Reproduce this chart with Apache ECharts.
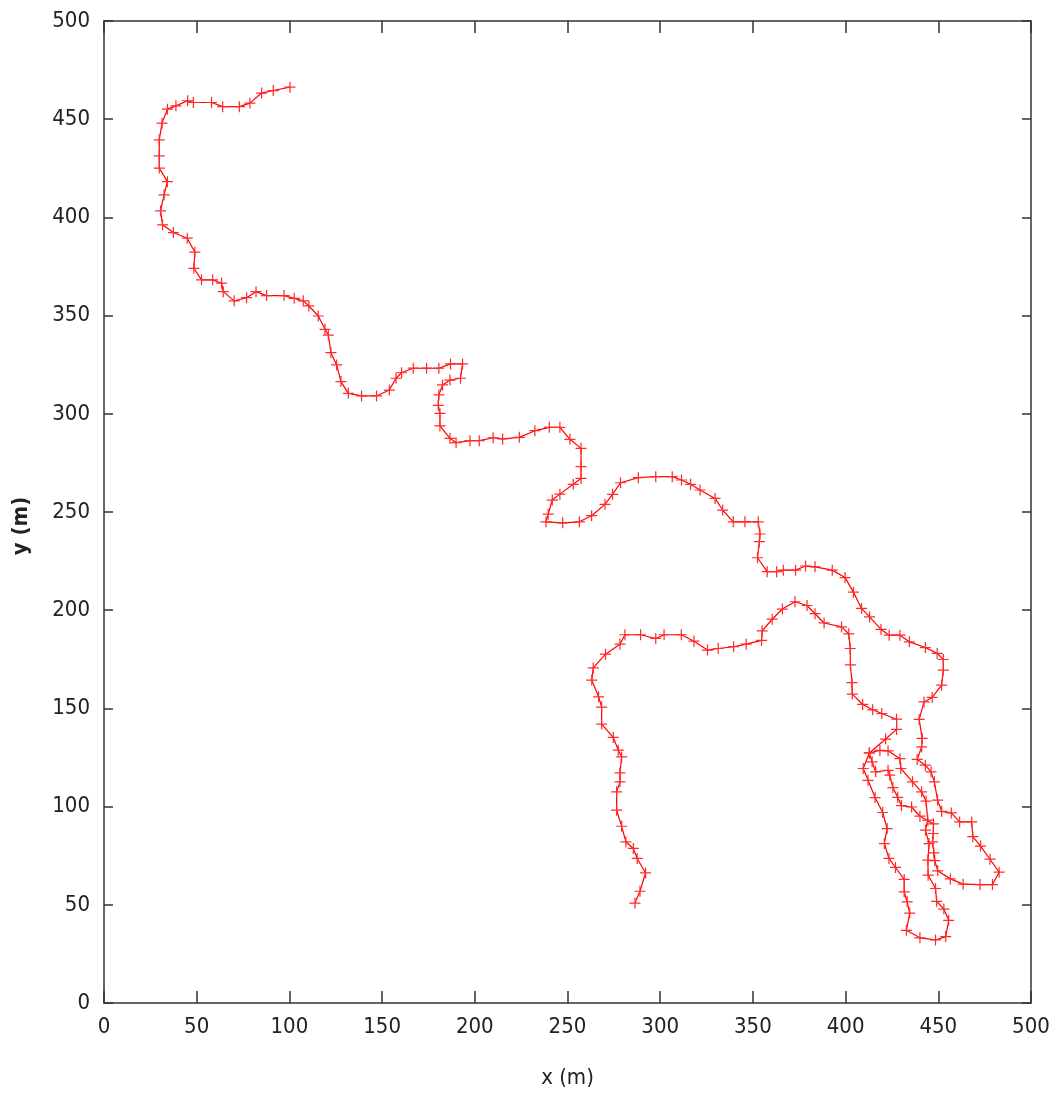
<!DOCTYPE html>
<html>
<head>
<meta charset="utf-8">
<script src="https://cdn.jsdelivr.net/npm/echarts@6/dist/echarts.min.js"></script>
<style>
html,body{margin:0;padding:0;background:#fff;}
#chart{width:1058px;height:1097px;}
</style>
</head>
<body>
<div id="chart"></div>
<script>
// Axis ticks
const xTicks = [0, 50, 100, 150, 200, 250, 300, 350, 400, 450, 500];
const yTicks = [0, 50, 100, 150, 200, 250, 300, 350, 400, 450, 500];
const xName = 'x (m)';
const yName = 'y (m)';

// Track points [x, y] in metres
const upperTrack = [
[100.3,466.3],[91.3,464.6],[85.0,463.3],[78.7,458.2],[73.0,456.4],[64.0,456.4],[58.0,458.5],[48.2,458.5],[45.1,459.4],[38.8,456.8],[34.2,455.1],[31.3,448.0],[29.8,439.5],[29.8,431.3],[29.8,425.1],[34.2,418.2],[32.4,411.5],[30.5,403.3],[31.6,396.2],[37.4,392.3],[44.9,389.4],[49.0,382.3],[48.5,374.1],[52.6,368.2],[58.6,368.2],[63.4,366.5],[64.3,362.2],[70.2,357.5],[76.9,359.1],[82.0,362.2],[87.7,360.2],[97.1,360.2],[102.6,358.8],[107.5,357.5],[110.5,354.9],[115.6,349.8],[119.2,343.0],[121.0,340.1],[122.4,331.1],[125.5,324.9],[127.8,316.4],[131.8,310.4],[138.9,309.1],[147.0,309.1],[153.9,312.1],[157.5,318.1],[160.5,320.9],[166.8,323.2],[174.0,323.2],[180.6,323.2],[186.9,325.4],[193.4,325.4],[192.3,318.1],[186.6,317.2],[182.6,314.7],[180.6,309.6],[180.3,304.3],[181.2,300.2],[181.2,293.8],[186.6,287.5],[189.9,285.3],[197.4,286.3],[202.4,286.3],[209.9,287.8],[215.0,287.2],[224.0,288.0],[232.4,291.4],[240.2,293.1],[245.9,293.1],[251.3,287.0],[257.3,282.4],[257.3,273.1],[257.3,267.1],[253.1,264.1],[245.9,259.1],[241.8,256.1],[239.6,248.9],[238.4,245.0],[247.4,244.5],[256.4,245.0],[263.0,248.1],[270.2,253.9],[274.3,259.0],[278.6,264.9],[288.2,267.5],[297.6,268.0],[306.5,268.0],[311.5,266.3],[316.4,264.1],[321.5,261.2],[329.6,256.9],[333.7,251.0],[339.4,245.0],[345.7,245.0],[352.9,245.0],[353.8,238.8],[353.5,234.9],[352.5,226.7],[357.7,219.6],[362.8,219.6],[366.4,220.4],[373.0,220.4],[378.4,222.5],[383.5,222.1],[392.8,220.4],[399.7,216.6],[404.2,209.2],[408.6,200.9],[412.9,196.6],[419.1,190.2],[423.5,187.3],[429.3,187.3],[434.4,183.9],[443.0,181.0],[449.4,178.0],[452.7,174.9],[452.7,169.5],[451.8,161.8],[446.7,155.6],[442.3,153.3],[439.7,144.4],[441.3,134.7],[441.0,130.4],[438.6,124.0]
];
const clusterTrack = [
[443.0,121.1],[446.1,117.7],[447.9,112.6],[449.6,103.3],[451.8,97.6],[457.0,96.8],[461.5,92.2],[468.0,92.2],[468.6,84.7],[472.8,79.9],[477.9,73.2],[482.8,66.6],[479.2,60.3],[472.5,60.3],[463.4,60.5],[456.5,63.2],[449.7,67.3],[448.1,72.5],[447.6,76.4],[446.9,82.0],[447.3,86.3],[447.4,91.2],[440.1,95.1],[435.6,99.8],[430.1,100.5],[428.1,104.7],[425.5,109.7],[423.8,116.0],[422.9,118.5],[416.2,117.7],[414.3,122.8],[412.8,127.3],
[409.5,119.4],[412.1,113.4],[415.9,104.6],[420.0,97.0],[422.4,88.8],[420.9,81.2],[423.4,73.6],[426.9,69.0],[431.6,62.9],[431.6,56.6],[433.2,51.5],[434.6,45.8],[432.8,37.0],[440.1,33.2],[448.5,32.1],[454.0,33.8],[455.6,42.1],[453.0,47.8],[449.1,51.8],[448.5,58.3],[444.5,65.1],[444.4,72.7],[445.0,81.2],[443.1,88.0],[444.3,93.1],[443.4,102.8],[441.0,107.5],[436.1,112.6],[429.8,119.4],[429.3,124.4],[422.9,128.4],[418.5,128.6],[412.8,127.3]
];
const lowerTrack = [
[421.6,134.4],[427.5,139.3],[427.5,144.5],[419.5,147.4],[414.6,149.3],[409.2,152.0],[403.6,157.3],[403.4,163.1],[402.6,172.2],[402.5,180.5],[401.7,188.0],[397.8,191.5],[388.4,193.5],[383.5,198.2],[379.2,202.4],[372.7,204.3],[365.9,200.6],[360.4,195.4],[355.0,189.5],[354.7,184.6],[346.4,182.7],[339.6,181.4],[331.3,180.5],[325.5,179.7],[318.2,184.2],[311.4,187.5],[302.1,187.5],[297.6,185.6],[289.4,187.5],[281.0,187.5],[278.3,182.7],[270.5,177.6],[263.9,170.6],[263.1,164.4],[266.8,155.9],[268.4,150.7],[268.4,142.0],[274.7,135.2],[277.4,128.7],[279.2,125.3],[278.3,117.2],[278.3,112.6],[276.5,107.5],[276.5,98.2],[279.2,90.0],[281.5,82.0],[285.5,78.7],[287.6,73.6],[292.1,66.2],[289.1,56.9],[286.4,50.9]
];

const track = upperTrack.concat(clusterTrack, lowerTrack);

const FONT = "'Liberation Sans Narrow', 'DejaVu Sans Condensed', 'Open Sans', sans-serif";
const frameColor = '#333333';
const textColor = '#222222';

const chart = echarts.init(document.getElementById('chart'), null, {renderer: 'canvas'});

const baseX = {
  type: 'value', min: xTicks[0], max: xTicks[xTicks.length - 1], interval: 50,
  splitLine: {show: false},
  axisLine: {show: true, onZero: false, lineStyle: {color: frameColor, width: 1.5}},
  axisTick: {show: true, inside: true, length: 12, lineStyle: {color: frameColor, width: 1.5}}
};
const baseY = {
  type: 'value', min: yTicks[0], max: yTicks[yTicks.length - 1], interval: 50,
  splitLine: {show: false},
  axisLine: {show: true, onZero: false, lineStyle: {color: frameColor, width: 1.5}},
  axisTick: {show: true, inside: true, length: 9, lineStyle: {color: frameColor, width: 1.5}}
};

chart.setOption({
  animation: false,
  backgroundColor: '#ffffff',
  grid: {left: 104, right: 27, top: 21, bottom: 94, containLabel: false},
  xAxis: [
    Object.assign({}, baseX, {
      position: 'bottom',
      name: xName, nameLocation: 'middle', nameGap: 64,
      nameTextStyle: {fontFamily: FONT, fontSize: 22, color: textColor},
      axisLabel: {show: true, margin: 13, fontFamily: FONT, fontSize: 22, color: textColor}
    }),
    Object.assign({}, baseX, {position: 'top', axisLabel: {show: false}})
  ],
  yAxis: [
    Object.assign({}, baseY, {
      position: 'left',
      name: yName, nameLocation: 'middle', nameGap: 72, nameRotate: 90,
      nameTextStyle: {fontFamily: FONT, fontSize: 22, fontWeight: 'bold', color: textColor, padding: [0, 28, 0, 0]},
      axisLabel: {show: true, margin: 14, fontFamily: FONT, fontSize: 22, color: textColor}
    }),
    Object.assign({}, baseY, {position: 'right', axisLabel: {show: false}})
  ],
  series: [{
    type: 'line',
    xAxisIndex: 0, yAxisIndex: 0,
    data: track,
    smooth: false,
    symbol: 'path://M4,0L5,0L5,4L9,4L9,5L5,5L5,9L4,9L4,5L0,5L0,4L4,4Z',
    symbolSize: 11,
    showAllSymbol: true,
    itemStyle: {color: '#ff2a2a'},
    lineStyle: {color: '#ff0000', width: 1.2},
    emphasis: {disabled: true}
  }]
});
</script>
</body>
</html>
